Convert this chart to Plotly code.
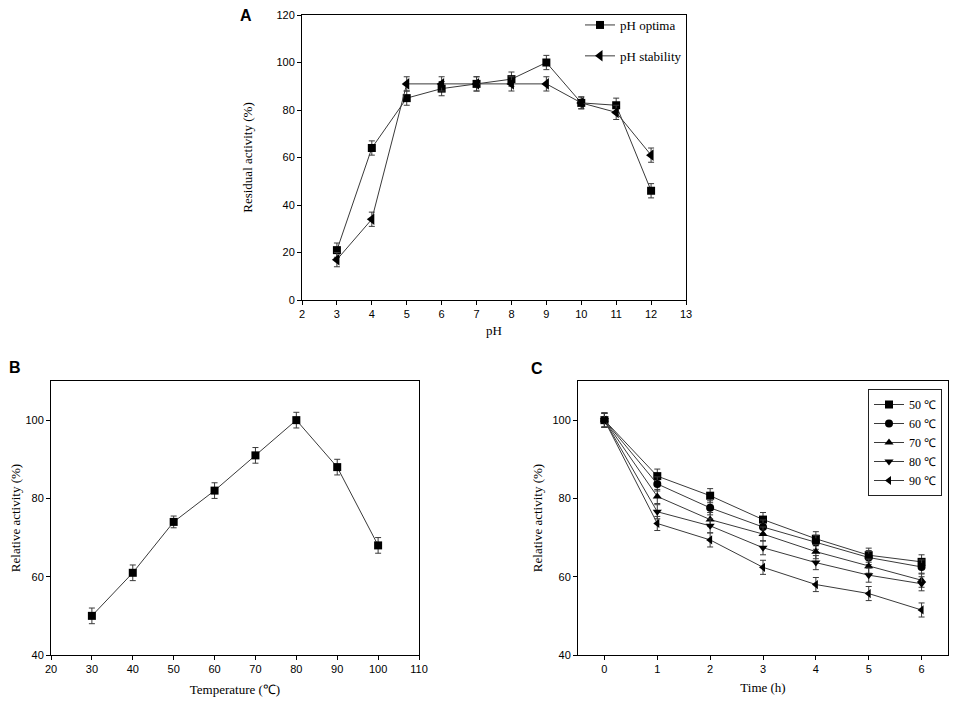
import plotly.graph_objects as go

W, H = 957, 704

# Panel A: pH
ph = [3, 4, 5, 6, 7, 8, 9, 10, 11, 12]
ph_optima = [21, 64, 85, 89, 91, 93, 100, 83, 82, 46]
ph_optima_err = [3, 3, 3, 3, 3, 3, 3, 2.5, 3, 3]
ph_stability = [17, 34, 91, 91, 91, 91, 91, 83, 79, 61]
ph_stability_err = [3, 3, 3, 3, 3, 3, 3, 2.5, 3, 3]

# Panel B: temperature
temp = [30, 40, 50, 60, 70, 80, 90, 100]
temp_activity = [50, 61, 74, 82, 91, 100, 88, 68]
temp_err = [2, 2, 1.5, 2, 2, 2, 2, 2]

# Panel C: thermostability over time
time_h = [0, 1, 2, 3, 4, 5, 6]
series_names = ['50 ℃', '60 ℃', '70 ℃', '80 ℃', '90 ℃']
series_values = [
    [100, 85.7, 80.7, 74.6, 69.7, 65.5, 63.8],
    [100, 83.7, 77.6, 72.7, 68.8, 64.9, 62.5],
    [100, 80.5, 74.6, 70.9, 66.4, 62.7, 59.1],
    [100, 76.6, 73.0, 67.4, 63.6, 60.4, 58.2],
    [100, 73.6, 69.4, 62.4, 58.0, 55.7, 51.5],
]
series_err = [1.8, 1.8, 1.8, 1.8, 1.8]
symbols = ['square', 'circle', 'triangle-up', 'triangle-down', 'triangle-left']

LINE = '#3a3a3a'
SANS = 'Liberation Sans, Arial, sans-serif'
SERIF = 'Liberation Serif'

# the page puts the figure 8px in from the top-left corner
OFF = 8
# plot area in screen pixels
L, R, T, B = 51, 948, 11, 655


def fx(px):
    return (px - L) / (R - L)


def fy(py):
    return (B - py) / (B - T)


def xd(a, b):
    return [fx(a), fx(b)]


def yd(top, bottom):
    return [fy(bottom), fy(top)]


def err(vals):
    return dict(type='data', array=vals, visible=True, color=LINE,
                thickness=1, width=3)


fig = go.Figure()

fig.add_trace(go.Scatter(
    x=ph, y=ph_optima, error_y=err(ph_optima_err), name='pH optima',
    mode='lines+markers', line=dict(color=LINE, width=1),
    marker=dict(symbol='square', size=8, color='black'),
    xaxis='x', yaxis='y', legend='legend', legendgroup='a1'))
fig.add_trace(go.Scatter(
    x=ph, y=ph_stability, error_y=err(ph_stability_err), name='pH stability',
    mode='lines+markers', line=dict(color=LINE, width=1),
    marker=dict(symbol='triangle-left', size=10, color='black'),
    xaxis='x', yaxis='y', legend='legend', legendgroup='a2'))

fig.add_trace(go.Scatter(
    x=temp, y=temp_activity, error_y=err(temp_err), showlegend=False,
    mode='lines+markers', line=dict(color=LINE, width=1),
    marker=dict(symbol='square', size=8, color='black'),
    xaxis='x2', yaxis='y2'))

for name, vals, e, sym in zip(series_names, series_values, series_err, symbols):
    fig.add_trace(go.Scatter(
        x=time_h, y=vals, error_y=err([e] * len(vals)), name=name,
        mode='lines+markers', line=dict(color=LINE, width=1),
        marker=dict(symbol=sym, size=8, color='black'),
        xaxis='x3', yaxis='y3', legend='legend2'))

axis_common = dict(
    showline=True, linecolor='black', linewidth=1, mirror=True,
    ticks='outside', ticklen=4, tickcolor='black', showgrid=False,
    zeroline=False, automargin=False, ticklabeloverflow='allow',
    tickfont=dict(family=SANS, size=11, color='black'),
)
title_font = dict(family=SERIF, size=13, color='black')

fig.update_layout(
    width=W, height=H,
    margin=dict(l=L - OFF, r=W - R + OFF, t=T - OFF, b=H - B + OFF,
                autoexpand=False),
    paper_bgcolor='white', plot_bgcolor='white',
    font=dict(family=SERIF, size=13, color='black'),
    xaxis=dict(axis_common, domain=xd(302, 686), range=[2, 13], dtick=1,
               title=dict(text='pH', font=title_font, standoff=6), anchor='y'),
    yaxis=dict(axis_common, domain=yd(15, 300), range=[0, 120], dtick=20,
               title=dict(text='Residual activity (%)', font=title_font, standoff=20),
               anchor='x'),
    xaxis2=dict(axis_common, domain=xd(51, 419), range=[20, 110], dtick=10,
                title=dict(text='Temperature (℃)', font=title_font, standoff=10),
                anchor='y2'),
    yaxis2=dict(axis_common, domain=yd(381, 655), range=[40, 110],
                tickvals=[40, 60, 80, 100],
                title=dict(text='Relative activity (%)', font=title_font, standoff=6),
                anchor='x2'),
    xaxis3=dict(axis_common, domain=xd(578, 948), range=[-0.5, 6.5], dtick=1,
                title=dict(text='Time (h)', font=title_font, standoff=8),
                anchor='y3'),
    yaxis3=dict(axis_common, domain=yd(381, 655), range=[40, 110],
                tickvals=[40, 60, 80, 100],
                title=dict(text='Relative activity (%)', font=title_font, standoff=6),
                anchor='x3'),
    legend=dict(x=fx(580), y=fy(10), xanchor='left', yanchor='top',
                font=dict(family=SERIF, size=13, color='black'),
                bgcolor='rgba(0,0,0,0)', traceorder='grouped',
                tracegroupgap=11, itemwidth=30),
    legend2=dict(x=fx(868), y=fy(389), xanchor='left', yanchor='top',
                 font=dict(family=SERIF, size=12, color='black'),
                 bgcolor='white', bordercolor='#222222', borderwidth=1,
                 tracegroupgap=0, itemwidth=30),
    showlegend=True,
)

for text, cx, cy in [('A', 246, 16), ('B', 15, 367), ('C', 537, 368)]:
    fig.add_annotation(text='<b>%s</b>' % text, x=fx(cx), y=fy(cy),
                       xref='paper', yref='paper', showarrow=False,
                       xanchor='center', yanchor='middle',
                       font=dict(family=SANS, size=16, color='black'))

fig.write_html('out.html')
